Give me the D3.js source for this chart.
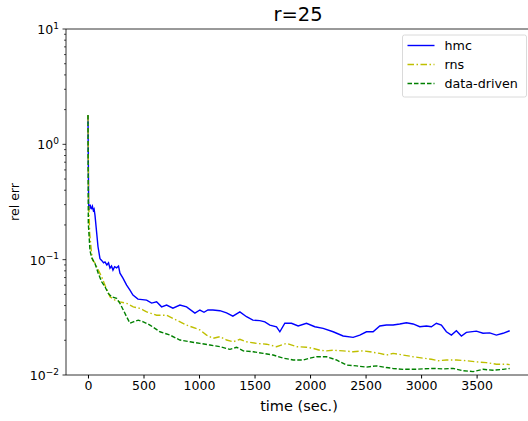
<!DOCTYPE html>
<html>
<head>
<meta charset="utf-8">
<script src="https://cdn.jsdelivr.net/npm/d3@7"></script>
<style>
  body { margin: 0; background: #fff; }
  svg { font-family: "DejaVu Sans", sans-serif; }
</style>
</head>
<body>
<div id="container"></div>
<script>
/* DATA */
const hmcTime = [0, 6, 12, 20, 27, 33, 40, 48, 55, 63, 90, 108, 125, 140, 153, 170, 185, 198, 212, 225, 240, 258, 275, 288, 315, 348, 378, 405, 450, 528, 573, 618, 663, 708, 765, 828, 888, 963, 1008, 1045, 1080, 1125, 1188, 1248, 1305, 1368, 1428, 1485, 1548, 1593, 1638, 1698, 1728, 1773, 1833, 1893, 1968, 2043, 2118, 2208, 2298, 2388, 2448, 2508, 2568, 2628, 2688, 2748, 2808, 2868, 2928, 2988, 3048, 3093, 3138, 3183, 3228, 3273, 3318, 3363, 3408, 3498, 3558, 3618, 3678, 3738, 3798];
const hmcErr = [1.78, 0.296, 0.27, 0.30, 0.28, 0.277, 0.29, 0.268, 0.275, 0.243, 0.13, 0.102, 0.098, 0.094, 0.0957, 0.09, 0.094, 0.0843, 0.088, 0.0812, 0.087, 0.085, 0.088, 0.0764, 0.0692, 0.0601, 0.0545, 0.0493, 0.0455, 0.0446, 0.042, 0.0431, 0.039, 0.0404, 0.038, 0.0404, 0.039, 0.0344, 0.0366, 0.035, 0.0366, 0.0366, 0.0361, 0.0346, 0.0324, 0.0353, 0.032, 0.0299, 0.0296, 0.0289, 0.0271, 0.0262, 0.0237, 0.0281, 0.0281, 0.0266, 0.0281, 0.0262, 0.0254, 0.0237, 0.0218, 0.0212, 0.0222, 0.0237, 0.0237, 0.0266, 0.0271, 0.0271, 0.0277, 0.0284, 0.0277, 0.0262, 0.0266, 0.0262, 0.0281, 0.0271, 0.0237, 0.0222, 0.0242, 0.0218, 0.0234, 0.024, 0.023, 0.0232, 0.0222, 0.023, 0.0242];

const rnsTime = [0, 5, 15, 30, 42, 63, 93, 123, 153, 198, 243, 288, 348, 408, 468, 498, 528, 618, 708, 798, 888, 1008, 1068, 1128, 1188, 1248, 1308, 1368, 1428, 1518, 1608, 1698, 1788, 1878, 1968, 2028, 2088, 2148, 2208, 2298, 2388, 2478, 2538, 2628, 2688, 2748, 2838, 2928, 3018, 3093, 3153, 3228, 3318, 3408, 3498, 3588, 3678, 3768, 3798];
const rnsErr = [1.8, 0.35, 0.17, 0.12, 0.099, 0.0933, 0.0812, 0.071, 0.0601, 0.0477, 0.0446, 0.0431, 0.0418, 0.039, 0.0378, 0.0366, 0.0353, 0.033, 0.033, 0.0299, 0.0271, 0.0246, 0.0222, 0.0208, 0.0215, 0.0201, 0.0194, 0.0204, 0.0194, 0.0188, 0.0185, 0.0176, 0.0188, 0.0176, 0.0174, 0.017, 0.0164, 0.0162, 0.0164, 0.0162, 0.0159, 0.0162, 0.0159, 0.0154, 0.0149, 0.0154, 0.0149, 0.0144, 0.014, 0.0137, 0.0133, 0.0135, 0.0135, 0.0133, 0.013, 0.0128, 0.0124, 0.0124, 0.0123];

const ddTime = [0, 3, 18, 33, 63, 93, 123, 153, 183, 213, 258, 288, 318, 348, 378, 408, 453, 498, 558, 648, 738, 828, 918, 1008, 1098, 1188, 1278, 1338, 1398, 1488, 1578, 1668, 1758, 1848, 1938, 1998, 2058, 2148, 2238, 2328, 2418, 2508, 2598, 2688, 2748, 2838, 2928, 3018, 3108, 3198, 3288, 3378, 3468, 3558, 3648, 3738, 3798];
const ddErr = [1.8, 0.207, 0.12, 0.104, 0.0927, 0.076, 0.0643, 0.0582, 0.051, 0.0477, 0.0461, 0.0418, 0.0366, 0.032, 0.0281, 0.0289, 0.0299, 0.0289, 0.0271, 0.0237, 0.0222, 0.0201, 0.0194, 0.0188, 0.0182, 0.0176, 0.0167, 0.0174, 0.0162, 0.0159, 0.0154, 0.0149, 0.014, 0.0135, 0.0135, 0.014, 0.0144, 0.0144, 0.0135, 0.0122, 0.012, 0.0117, 0.012, 0.0116, 0.0114, 0.0112, 0.0112, 0.0113, 0.0114, 0.0113, 0.0114, 0.0109, 0.0107, 0.0112, 0.011, 0.0112, 0.0114];

const seriesNames = ["hmc", "rns", "data-driven"];
const xTicks = [0, 500, 1000, 1500, 2000, 2500, 3000, 3500];
const yTicks = [0.01, 0.1, 1, 10];
const yTickExp = ["\u22122", "\u22121", "0", "1"];

/* CONSTANTS */
const width = 528, height = 421;
const margin = { top: 29, left: 66, bottom: 46, right: -3 };

const series = [
  { name: seriesNames[0], t: hmcTime, v: hmcErr, color: "#0000ff", dash: null },
  { name: seriesNames[1], t: rnsTime, v: rnsErr, color: "#bfbf00", dash: "6.5,2.5,1.5,2.5" },
  { name: seriesNames[2], t: ddTime, v: ddErr, color: "#008000", dash: "4.5,2" }
];

const svg = d3.select("#container")
  .append("svg")
  .attr("width", width)
  .attr("height", height);

// scales
const xScale = d3.scaleLinear()
  .domain([-198, 3990])
  .range([margin.left, width - margin.right]);

const yScale = d3.scaleLog()
  .domain([0.01, 10])
  .range([height - margin.bottom, margin.top]);

// clip
svg.append("clipPath").attr("id", "clip")
  .append("rect")
  .attr("x", margin.left).attr("y", margin.top)
  .attr("width", width - margin.right - margin.left)
  .attr("height", height - margin.bottom - margin.top);

// lines
const line = d3.line()
  .x(d => xScale(d[0]))
  .y(d => yScale(d[1]));

svg.append("g")
  .attr("clip-path", "url(#clip)")
  .selectAll("path")
  .data(series)
  .join("path")
  .attr("d", d => line(d.t.map((t, i) => [t, d.v[i]])))
  .attr("fill", "none")
  .attr("stroke", d => d.color)
  .attr("stroke-width", 1.4)
  .attr("stroke-dasharray", d => d.dash);

// axes
const xAxis = d3.axisBottom(xScale)
  .tickValues(xTicks)
  .tickSize(3.5)
  .tickPadding(3)
  .tickFormat(d3.format("d"));

const gx = svg.append("g")
  .attr("transform", `translate(0,${height - margin.bottom})`)
  .call(xAxis);
gx.select(".domain").remove();
gx.selectAll("text").attr("font-size", 12.5).attr("fill", "#000").attr("font-family", "DejaVu Sans");

const gy = svg.append("g")
  .attr("transform", `translate(${margin.left},0)`);

// minor ticks on log axis
const minorTicks = [];
for (let e = -2; e < 1; e++) {
  for (let k = 2; k <= 9; k++) minorTicks.push(k * Math.pow(10, e));
}
gy.selectAll(".minor")
  .data(minorTicks)
  .join("line")
  .attr("class", "minor")
  .attr("x1", -2).attr("x2", 0)
  .attr("y1", d => yScale(d)).attr("y2", d => yScale(d))
  .attr("stroke", "#000").attr("stroke-width", 0.7);

const major = gy.selectAll(".major")
  .data(yTicks)
  .join("g")
  .attr("class", "major")
  .attr("transform", d => `translate(0,${yScale(d)})`);
major.append("line")
  .attr("x1", -3.5).attr("x2", 0)
  .attr("stroke", "#000").attr("stroke-width", 0.8);
const lab = major.append("text")
  .attr("x", -7)
  .attr("y", 5)
  .attr("text-anchor", "end")
  .attr("font-size", 12.5);
lab.append("tspan").text("10");
lab.append("tspan")
  .attr("dy", -5.5)
  .attr("font-size", 9)
  .text((d, i) => yTickExp[i]);

// spines
const spine = svg.append("g").attr("stroke", "#000").attr("stroke-width", 0.8);
spine.append("line")
  .attr("x1", margin.left).attr("x2", margin.left)
  .attr("y1", margin.top).attr("y2", height - margin.bottom);
spine.append("line")
  .attr("x1", margin.left).attr("x2", width)
  .attr("y1", margin.top).attr("y2", margin.top);
spine.append("line")
  .attr("x1", margin.left).attr("x2", width)
  .attr("y1", height - margin.bottom).attr("y2", height - margin.bottom);

// labels
svg.append("text")
  .attr("x", 298).attr("y", 21)
  .attr("text-anchor", "middle")
  .attr("font-size", 19.5)
  .text("r=25");

svg.append("text")
  .attr("x", 299).attr("y", 411)
  .attr("text-anchor", "middle")
  .attr("font-size", 14.5)
  .text("time (sec.)");

svg.append("text")
  .attr("transform", "translate(18.5,202) rotate(-90)")
  .attr("text-anchor", "middle")
  .attr("font-size", 12.5)
  .text("rel err");

// legend
const legend = svg.append("g").attr("transform", "translate(402.5,35)");
legend.append("rect")
  .attr("width", 124).attr("height", 62)
  .attr("rx", 2)
  .attr("fill", "#fff").attr("fill-opacity", 0.8)
  .attr("stroke", "#d0d0d0").attr("stroke-width", 0.8);
const item = legend.selectAll(".item")
  .data(series)
  .join("g")
  .attr("class", "item")
  .attr("transform", (d, i) => `translate(0,${10.5 + i * 19})`);
item.append("line")
  .attr("x1", 5).attr("x2", 32)
  .attr("stroke", d => d.color)
  .attr("stroke-width", 1.4)
  .attr("stroke-dasharray", d => d.dash);
item.append("text")
  .attr("x", 42).attr("y", 4.5)
  .attr("font-size", 12.7)
  .text(d => d.name);
</script>
</body>
</html>
